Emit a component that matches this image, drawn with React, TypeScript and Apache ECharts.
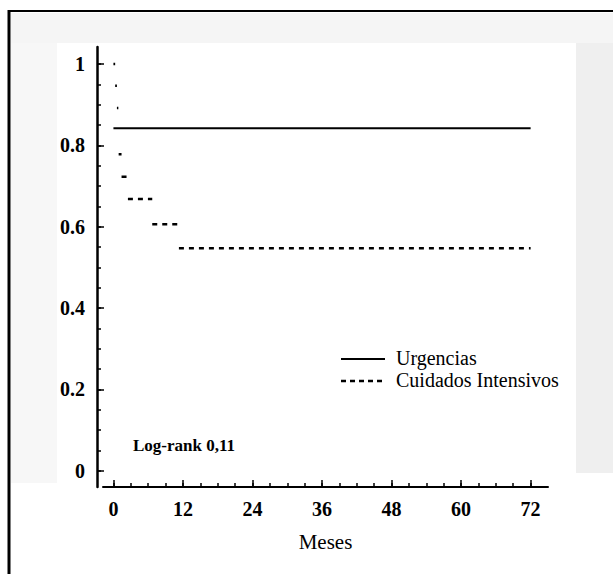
import React, { useEffect, useRef } from "react";
import * as echarts from "echarts";

const urgenciasTimes = [0, 72];
const urgenciasSurv = [0.842, 0.842];

const cuidadosTimes = [0, 0.3, 0.6, 0.85, 0.9, 1.4, 2.5, 6.7, 11.3, 72];
const cuidadosSurv = [1.0, 0.947, 0.892, 0.838, 0.778, 0.723, 0.668, 0.606, 0.547, 0.547];

const xMajorTicks = [0, 12, 24, 36, 48, 60, 72];
const xMinorTicks = [0, 3, 6, 9, 12, 15, 18, 21, 24, 27, 30, 33, 36, 39, 42, 45, 48, 51, 54, 57, 60, 63, 66, 69, 72];
const yMajorTicks = [0, 0.2, 0.4, 0.6, 0.8, 1];
const yMinorTicks = [0, 0.05, 0.1, 0.15, 0.2, 0.25, 0.3, 0.35, 0.4, 0.45, 0.5, 0.55, 0.6, 0.65, 0.7, 0.75, 0.8, 0.85, 0.9, 0.95, 1];

const seriesNames = ["Urgencias", "Cuidados Intensivos"];
const logRankText = "Log-rank 0,11";
const xAxisTitle = "Meses";

const SERIF = '"Liberation Serif", "Times New Roman", serif';

function stepSegments(times: number[], surv: number[]) {
  const out: any[] = [];
  for (let i = 0; i < times.length - 1; i++) {
    out.push([times[i], surv[i]]);
    out.push([times[i + 1], surv[i]]);
    out.push("-");
  }
  return out;
}

export default function App() {
  const ref = useRef<HTMLDivElement>(null);
  useEffect(() => {
    if (!ref.current) return;
    const chart = echarts.init(ref.current, undefined, { renderer: "svg" });
    const xBase = {
      type: "value" as const,
      min: -1.8,
      max: 75,
      position: "bottom" as const,
      splitLine: { show: false },
    };
    const yBase = {
      type: "value" as const,
      min: -0.04,
      max: 1.042,
      position: "left" as const,
      offset: 6,
      splitLine: { show: false },
    };
    const legendLeft = 341;
    const legendTop = 359;
    const legendGap = 22;
    chart.setOption({
      animation: false,
      backgroundColor: "#ffffff",
      grid: { left: 103, right: 65, top: 47, bottom: 87 },
      xAxis: [
        {
          ...xBase,
          axisLine: { show: true, onZero: false, lineStyle: { color: "#000", width: 2 } },
          axisTick: { show: true, inside: true, length: 4, customValues: xMinorTicks, lineStyle: { color: "#000", width: 1.5 } },
          axisLabel: { show: false },
          name: xAxisTitle,
          nameLocation: "middle",
          nameGap: 44,
          nameTextStyle: { fontFamily: SERIF, fontSize: 21, color: "#000" },
        },
        {
          ...xBase,
          axisLine: { show: true, onZero: false, lineStyle: { color: "#000", width: 0, opacity: 0 } },
          axisTick: { show: true, inside: true, length: 7, customValues: xMajorTicks, lineStyle: { color: "#000", width: 1.5 } },
          axisLabel: {
            show: true,
            customValues: xMajorTicks,
            margin: 12,
            fontFamily: SERIF,
            fontWeight: "bold",
            fontSize: 20,
            color: "#000",
          },
        },
      ],
      yAxis: [
        {
          ...yBase,
          axisLine: { show: true, onZero: false, lineStyle: { color: "#000", width: 2.5 } },
          axisTick: { show: true, inside: true, length: 4, customValues: yMinorTicks, lineStyle: { color: "#000", width: 1.5 } },
          axisLabel: { show: false },
        },
        {
          ...yBase,
          axisLine: { show: true, onZero: false, lineStyle: { color: "#000", width: 0, opacity: 0 } },
          axisTick: { show: true, inside: true, length: 7, customValues: yMajorTicks, lineStyle: { color: "#000", width: 1.5 } },
          axisLabel: {
            show: true,
            customValues: yMajorTicks,
            margin: 12,
            fontFamily: SERIF,
            fontWeight: "bold",
            fontSize: 20,
            color: "#000",
            formatter: (v: number) => String(v),
          },
        },
      ],
      graphic: [
        { type: "rect", z: -10, shape: { x: 11, y: 13, width: 602, height: 30 }, style: { fill: "#f5f5f5" } },
        { type: "rect", z: -10, shape: { x: 11, y: 43, width: 46, height: 440 }, style: { fill: "#f7f7f7" } },
        { type: "rect", z: -10, shape: { x: 576, y: 43, width: 37, height: 430 }, style: { fill: "#efefef" } },
        { type: "line", shape: { x1: 8, y1: 11, x2: 613, y2: 11 }, style: { stroke: "#000", lineWidth: 2 } },
        { type: "line", shape: { x1: 9, y1: 10, x2: 9, y2: 574 }, style: { stroke: "#000", lineWidth: 3 } },
        {
          type: "line",
          shape: { x1: legendLeft, y1: legendTop, x2: legendLeft + 44, y2: legendTop },
          style: { stroke: "#000", lineWidth: 2 },
        },
        {
          type: "text",
          x: legendLeft + 55,
          y: legendTop - 1,
          style: { text: seriesNames[0], fontFamily: SERIF, fontSize: 20, lineHeight: 20, fill: "#000", verticalAlign: "middle" },
        },
        {
          type: "line",
          shape: { x1: legendLeft, y1: legendTop + legendGap, x2: legendLeft + 44, y2: legendTop + legendGap },
          style: { stroke: "#000", lineWidth: 2.5, lineDash: [5, 4] },
        },
        {
          type: "text",
          x: legendLeft + 55,
          y: legendTop + legendGap - 1,
          style: { text: seriesNames[1], fontFamily: SERIF, fontSize: 20, lineHeight: 20, fill: "#000", verticalAlign: "middle" },
        },
        {
          type: "text",
          x: 133,
          y: 445,
          style: {
            text: logRankText,
            fontFamily: SERIF,
            fontWeight: "bold",
            fontSize: 17,
            fill: "#000",
            verticalAlign: "middle",
          },
        },
      ],
      series: [
        {
          name: seriesNames[0],
          type: "line",
          data: stepSegments(urgenciasTimes, urgenciasSurv),
          symbol: "none",
          connectNulls: false,
          color: "#000",
          lineStyle: { color: "#000", width: 2, type: "solid" },
        },
        {
          name: seriesNames[1],
          type: "line",
          data: stepSegments(cuidadosTimes, cuidadosSurv),
          symbol: "none",
          connectNulls: false,
          color: "#000",
          lineStyle: { color: "#000", width: 2.5, type: [5, 5] },
        },
      ],
    });
    return () => chart.dispose();
  }, []);
  return (
    <div
      ref={ref}
      style={{ position: "fixed", left: 0, top: 0, width: 613, height: 574, background: "#fff" }}
    />
  );
}
